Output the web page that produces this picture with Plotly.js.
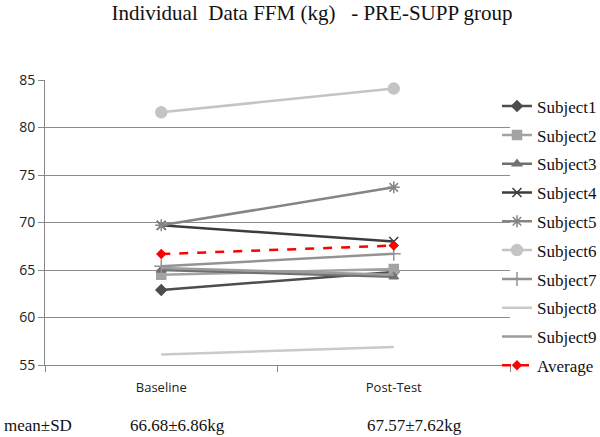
<!DOCTYPE html>
<html>
<head>
<meta charset="utf-8">
<script src="https://cdn.plot.ly/plotly-3.0.1.min.js"></script>
<style>html,body{margin:0;padding:0;background:#fff;}#chart{width:600px;height:437px;}</style>
</head>
<body>
<div id="chart"></div>
<script>
var categories = ["Baseline", "Post-Test"];
var subjectNames = ["Subject1","Subject2","Subject3","Subject4","Subject5","Subject6","Subject7","Subject8","Subject9"];
var subject1 = [62.9, 64.8];
var subject2 = [64.5, 65.1];
var subject3 = [65.0, 64.3];
var subject4 = [69.7, 68.0];
var subject5 = [69.7, 73.7];
var subject6 = [81.6, 84.1];
var subject7 = [65.4, 66.7];
var subject8 = [56.1, 56.9];
var subject9 = [65.2, 64.5];
var average = [66.68, 67.57];
var yTicks = [55, 60, 65, 70, 75, 80, 85];
var summaryLabel = "mean±SD";
var summaryTexts = ["66.68±6.86kg", "67.57±7.62kg"];

var subjectValues = [subject1, subject2, subject3, subject4, subject5, subject6, subject7, subject8, subject9];
var styles = [
  {color: "#4d4d4d", symbol: "diamond", size: 8, mode: "lines+markers"},
  {color: "#a3a3a3", symbol: "square", size: 9, mode: "lines+markers"},
  {color: "#707070", symbol: "triangle-up", size: 8, mode: "lines+markers"},
  {color: "#3c3c3c", symbol: "x-thin-open", size: 9, mode: "lines+markers"},
  {color: "#858585", symbol: "asterisk-open", size: 10, mode: "lines+markers"},
  {color: "#c4c4c4", symbol: "circle", size: 11, mode: "lines+markers"},
  {color: "#939393", symbol: "cross-thin-open", size: 10, mode: "lines+markers"},
  {color: "#cacaca", symbol: "circle", size: 4, mode: "lines"},
  {color: "#9c9c9c", symbol: "circle", size: 4, mode: "lines"}
];

var traces = subjectValues.map(function(vals, i) {
  var s = styles[i];
  return {
    x: categories, y: vals, name: subjectNames[i], type: "scatter", mode: s.mode,
    legendgroup: "g" + i,
    line: {color: s.color, width: 2.5},
    marker: {color: s.color, symbol: s.symbol, size: s.size, line: {color: s.color, width: 1.5}}
  };
});
traces.push({
  x: categories, y: average, name: "Average", type: "scatter", mode: "lines+markers",
  legendgroup: "gavg",
  line: {color: "#ff0000", width: 2.5, dash: "dash"},
  marker: {color: "#ff0000", symbol: "diamond", size: 8}
});

var serif = "'Liberation Serif', 'Times New Roman', serif";
var plotL = 45, plotW = 465;
function px(x) { return (x - plotL) / plotW; }

var annotations = [
  {text: summaryLabel, x: px(2)},
  {text: summaryTexts[0], x: px(128)},
  {text: summaryTexts[1], x: px(365)}
].map(function(a) {
  return {text: a.text, xref: "paper", yref: "paper", x: a.x, xanchor: "left",
    y: (365 - 425) / 285, yanchor: "middle", showarrow: false,
    font: {family: serif, size: 17, color: "#111"}};
});

var layout = {
  width: 600, height: 437,
  margin: {l: 45, r: 90, t: 80, b: 72, autoexpand: false},
  paper_bgcolor: "#fff", plot_bgcolor: "#fff",
  title: {text: "Individual\u00a0\u00a0Data FFM (kg)\u00a0\u00a0\u00a0- PRE-SUPP group",
    x: 0.52, xanchor: "center", y: 0.97, yanchor: "middle",
    font: {family: serif, size: 21, color: "#111"}},
  showlegend: true,
  legend: {xref: "paper", x: 0.972, xanchor: "left", yref: "paper", y: 0.97, yanchor: "top",
    maxheight: 420,
    font: {family: serif, size: 17, color: "#111"},
    tracegroupgap: 3.7, itemwidth: 30, bgcolor: "rgba(0,0,0,0)"},
  xaxis: {type: "category", range: [-0.5, 1.5], tickson: "boundaries",
    ticks: "outside", ticklen: 6, tickcolor: "#888", ticklabelstandoff: 10,
    showline: true, linecolor: "#888", linewidth: 1, showgrid: false,
    tickfont: {family: "'Open Sans', 'DejaVu Sans', sans-serif", size: 13, color: "#222"},
    fixedrange: true},
  yaxis: {range: [55, 85], tickvals: yTicks, ticks: "outside", ticklen: 6, tickcolor: "#888",
    showline: true, linecolor: "#888", linewidth: 1,
    showgrid: true, gridcolor: "#8c8c8c", gridwidth: 1, zeroline: false,
    tickfont: {family: "'Open Sans', 'DejaVu Sans', sans-serif", size: 14, color: "#222"},
    fixedrange: true},
  annotations: annotations
};

Plotly.newPlot("chart", traces, layout, {displayModeBar: false, staticPlot: true});
</script>
</body>
</html>
